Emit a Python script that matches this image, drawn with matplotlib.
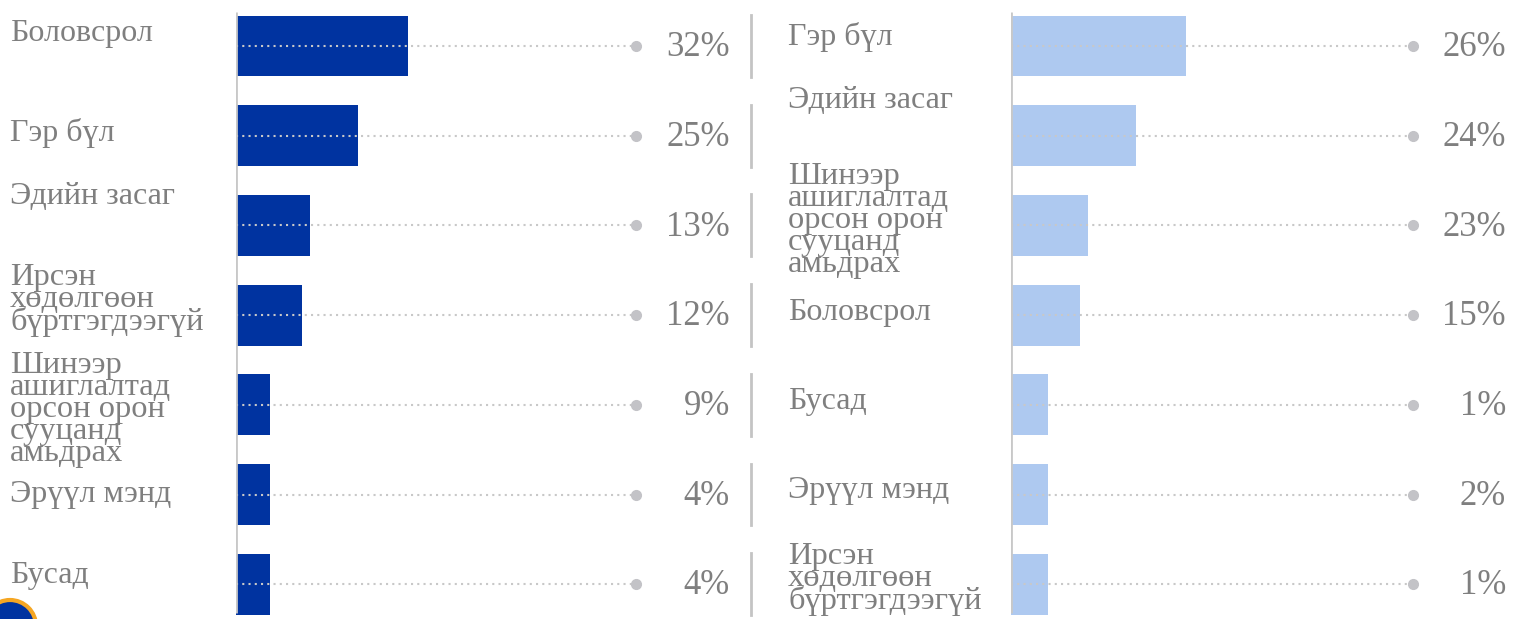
import numpy as np
import matplotlib.pyplot as plt
from matplotlib.patches import Circle
import matplotlib.transforms as mtransforms

# data
left_labels = ['Боловсрол', 'Гэр бүл', 'Эдийн засаг',
               'Ирсэн\nхөдөлгөөн\nбүртгэгдээгүй',
               'Шинээр\nашиглалтад\nорсон орон\nсууцанд\nамьдрах',
               'Эрүүл мэнд', 'Бусад']
left_pct = ['32%', '25%', '13%', '12%', '9%', '4%', '4%']
left_bar = [32, 22.7, 13.8, 12.3, 6.3, 6.3, 6.3]

right_labels = ['Гэр бүл', 'Эдийн засаг',
                'Шинээр\nашиглалтад\nорсон орон\nсууцанд\nамьдрах',
                'Боловсрол', 'Бусад', 'Эрүүл мэнд',
                'Ирсэн\nхөдөлгөөн\nбүртгэгдээгүй']
right_pct = ['26%', '24%', '23%', '15%', '1%', '2%', '1%']
right_bar = [26, 18.6, 11.4, 10.3, 5.5, 5.5, 5.5]

# layout
W, H = 1516, 619
row0, pitch = 46, 89.7
left_label_dy = [-13, -3, -29, -15, 5, 0, -9]
right_label_dy = [-9, -35, -5, -3, -3, -4, -5]

grey_txt = '#7f7f7f'
dot_col = '#c3c3c7'
font = ['Liberation Serif', 'DejaVu Serif']

fig = plt.figure(figsize=(W / 100, H / 100), dpi=100)

top_px = row0 - pitch * 0.5
bot_px = row0 + pitch * 6.5
ax_b = 1 - bot_px / H
ax_h = (bot_px - top_px) / H


def panel(x0, width, xmax, labels, pcts, bars, color, dot_frac, pct_frac, label_frac, dys, sep):
    ax = fig.add_axes([x0 / W, ax_b, width / W, ax_h])
    y = np.arange(len(labels))
    ax.barh(y, bars, height=0.68, color=color, zorder=2)
    ax.set_xlim(0, xmax)
    ax.set_ylim(6.5, -0.5)
    ax.axis('off')
    ax.vlines(0, -0.38, 6.32, color='#c8c8c8', lw=2, zorder=3)
    tr = mtransforms.blended_transform_factory(ax.transAxes, ax.transData)
    for i in y:
        ax.plot([0, dot_frac], [i, i], transform=tr, color='#c8c8c8', ls=(0, (1, 2)),
                lw=1.5, zorder=3)
        ax.plot([dot_frac], [i], transform=tr, marker='o', ms=7, color=dot_col, zorder=4)
        ax.text(pct_frac, i + 0.02, pcts[i], transform=tr, ha='right', va='center',
                fontsize=25, color=grey_txt, family=font)
        multi = '\n' in labels[i]
        ax.text(label_frac, i + dys[i] / pitch, labels[i], transform=tr, ha='left',
                va='center', fontsize=23.4 if multi else 23, color=grey_txt,
                family=font, linespacing=0.68)
        if sep:
            ax.plot([1, 1], [i - 0.345, i + 0.345], transform=tr, color='#c4c4c4',
                    lw=2, clip_on=False)
    return ax


panel(236, 515, 515 / 5.375, left_labels, left_pct, left_bar, '#0033a0',
      (636 - 236) / 515, (730 - 236) / 515, (10 - 236) / 515, left_label_dy, True)
panel(1011, 505, 505 / 6.73, right_labels, right_pct, right_bar, '#aec9f0',
      (1413 - 1011) / 505, (1506 - 1011) / 505, (788 - 1011) / 505, right_label_dy, False)

# logo fragment in the lower left corner
fig.patches.append(Circle((10, H - 626), 26, transform=None, facecolor='#0033a0',
                          edgecolor='#f5a623', lw=3))

fig.savefig('out.png', dpi=100)
